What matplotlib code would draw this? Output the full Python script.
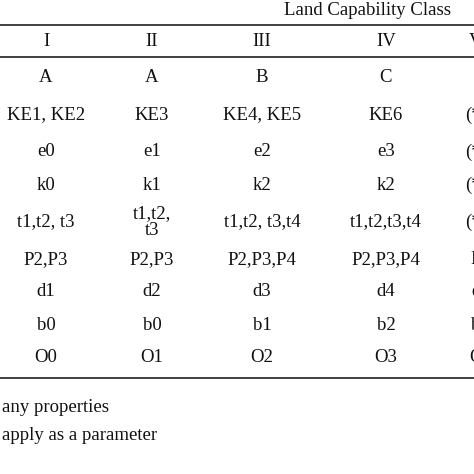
import matplotlib
matplotlib.use("Agg")
import matplotlib.pyplot as plt

header = "Land Capability Class"
classes = ["I", "II", "III", "IV", "V"]
rows = [
    ["A", "A", "B", "C", "-"],
    ["KE1, KE2", "KE3", "KE4, KE5", "KE6", "(*)"],
    ["e0", "e1", "e2", "e3", "(*)"],
    ["k0", "k1", "k2", "k2", "(*)"],
    ["t1,t2, t3", "t1,t2,\nt3", "t1,t2, t3,t4", "t1,t2,t3,t4", "(*)"],
    ["P2,P3", "P2,P3", "P2,P3,P4", "P2,P3,P4", "P"],
    ["d1", "d2", "d3", "d4", "d"],
    ["b0", "b0", "b1", "b2", "b"],
    ["O0", "O1", "O2", "O3", "O"],
]
notes = ["any properties", "apply as a parameter"]

W = H = 474
fig = plt.figure(figsize=(4.74, 4.74), dpi=100)
ax = fig.add_axes([0, 0, 1, 1])
ax.set_xlim(0, W); ax.set_ylim(H, 0); ax.axis("off")
fs = 13.5
kw = dict(family="Liberation Serif", fontsize=fs, ha="center", va="center", color="#111")
xs = [46, 152, 262, 386, 476]
ys = [77, 115, 152, 185, 222, 260, 292, 325, 357]
ax.text(368, 10, header, **kw)
for x, c in zip(xs, classes):
    ax.text(x, 41, c, **kw)
for y, r in zip(ys, rows):
    for x, v in zip(xs, r):
        ax.text(x, y, v, linespacing=1.0, **kw)
for y in (25, 57, 378):
    ax.plot([0, W], [y, y], color="#333", lw=1.3)
for i, n in enumerate(notes):
    ax.text(2, 407 + 28 * i, n, **{**kw, "ha": "left"})
fig.savefig("out.png", dpi=100)
